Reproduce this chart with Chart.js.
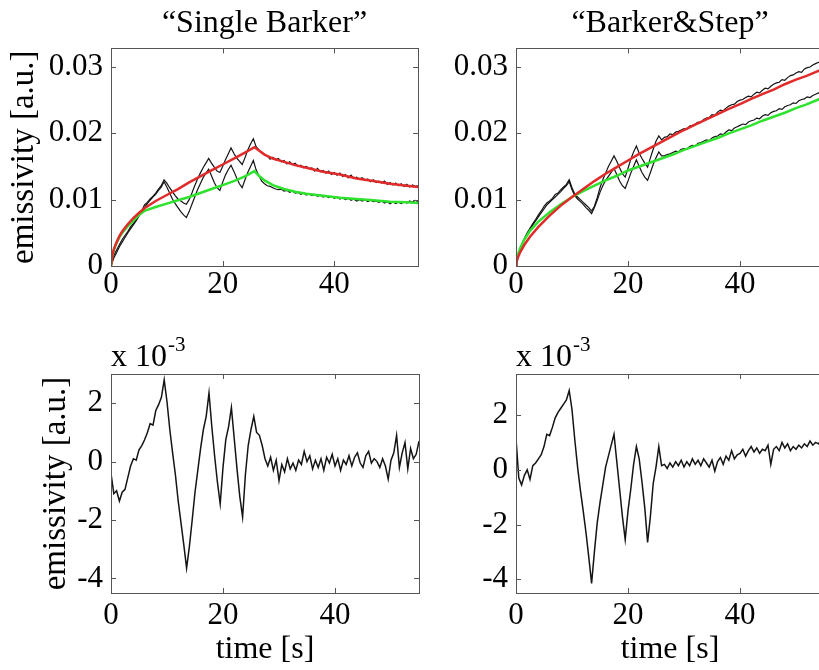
<!DOCTYPE html>
<html>
<head>
<meta charset="utf-8">
<script src="https://cdn.jsdelivr.net/npm/chart.js@4.4.1/dist/chart.umd.min.js"></script>
<style>
  html, body { margin: 0; padding: 0; background: #fff; overflow: hidden; }
  body { width: 819px; height: 670px; position: relative; }
  canvas { position: absolute; }
</style>
</head>
<body>
<canvas id="sbTop" width="430" height="300" style="left:0;top:0"></canvas>
<canvas id="bsTop" width="420" height="300" style="left:420px;top:0"></canvas>
<canvas id="sbDiff" width="430" height="350" style="left:0;top:320px"></canvas>
<canvas id="bsDiff" width="420" height="350" style="left:420px;top:320px"></canvas>
<script>
// time axis of the measured traces [s]
const TIME = [
  0, 0.5, 1, 1.5, 2, 2.5, 3, 3.5, 4, 4.5,
  5, 5.5, 6, 6.5, 7, 7.5, 8, 8.5, 9, 9.5,
  10, 10.5, 11, 11.5, 12, 12.5, 13, 13.5, 14, 14.5,
  15, 15.5, 16, 16.5, 17, 17.5, 18, 18.5, 19, 19.5,
  20, 20.5, 21, 21.5, 22, 22.5, 23, 23.5, 24, 24.5,
  25, 25.5, 26, 26.5, 27, 27.5, 28, 28.5, 29, 29.5,
  30, 30.5, 31, 31.5, 32, 32.5, 33, 33.5, 34, 34.5,
  35, 35.5, 36, 36.5, 37, 37.5, 38, 38.5, 39, 39.5,
  40, 40.5, 41, 41.5, 42, 42.5, 43, 43.5, 44, 44.5,
  45, 45.5, 46, 46.5, 47, 47.5, 48, 48.5, 49, 49.5,
  50, 50.5, 51, 51.5, 52, 52.5, 53, 53.5, 54, 54.5,
  55,
];

// tick labels
const X_TICKS = [0, 20, 40];
const TOP_Y_TICKS = [0, 0.01, 0.02, 0.03];
const DIFF_Y_TICKS = [-4, -2, 0, 2];

// "Single Barker": measured traces
const SB_UPPER = [
  0.0000, 0.0016, 0.0024, 0.0032, 0.0040, 0.0046, 0.0052, 0.0059, 0.0064, 0.0070,
  0.0078, 0.0083, 0.0092, 0.0096, 0.0101, 0.0105, 0.0110, 0.0116, 0.0121, 0.0130,
  0.0125, 0.0118, 0.0112, 0.0106, 0.0101, 0.0098, 0.0095, 0.0093, 0.0100, 0.0110,
  0.0121, 0.0131, 0.0140, 0.0148, 0.0155, 0.0162, 0.0155, 0.0149, 0.0143, 0.0141,
  0.0150, 0.0160, 0.0169, 0.0178, 0.0170, 0.0163, 0.0158, 0.0153, 0.0163, 0.0175,
  0.0184, 0.0192, 0.0180, 0.0175, 0.0171, 0.0168, 0.0166, 0.0161, 0.0164, 0.0160,
  0.0162, 0.0157, 0.0159, 0.0154, 0.0157, 0.0153, 0.0155, 0.0150, 0.0152, 0.0148,
  0.0150, 0.0147, 0.0148, 0.0143, 0.0147, 0.0142, 0.0144, 0.0140, 0.0143, 0.0138,
  0.0141, 0.0137, 0.0140, 0.0135, 0.0138, 0.0133, 0.0137, 0.0132, 0.0134, 0.0131,
  0.0133, 0.0129, 0.0131, 0.0127, 0.0130, 0.0126, 0.0128, 0.0125, 0.0128, 0.0123,
  0.0126, 0.0122, 0.0125, 0.0121, 0.0124, 0.0120, 0.0123, 0.0119, 0.0122, 0.0120,
  0.0121,
];
const SB_LOWER = [
  0.0000, 0.0012, 0.0020, 0.0029, 0.0036, 0.0043, 0.0050, 0.0056, 0.0062, 0.0068,
  0.0075, 0.0081, 0.0088, 0.0094, 0.0099, 0.0104, 0.0108, 0.0114, 0.0119, 0.0127,
  0.0119, 0.0110, 0.0101, 0.0094, 0.0088, 0.0082, 0.0077, 0.0073, 0.0082, 0.0093,
  0.0104, 0.0115, 0.0124, 0.0133, 0.0140, 0.0146, 0.0136, 0.0126, 0.0118, 0.0114,
  0.0126, 0.0137, 0.0145, 0.0152, 0.0143, 0.0133, 0.0124, 0.0118, 0.0130, 0.0141,
  0.0150, 0.0159, 0.0145, 0.0136, 0.0128, 0.0124, 0.0121, 0.0120, 0.0118, 0.0116,
  0.0115, 0.0116, 0.0113, 0.0114, 0.0111, 0.0113, 0.0110, 0.0111, 0.0108, 0.0110,
  0.0107, 0.0109, 0.0106, 0.0108, 0.0105, 0.0107, 0.0104, 0.0106, 0.0103, 0.0105,
  0.0102, 0.0104, 0.0101, 0.0103, 0.0100, 0.0102, 0.0099, 0.0101, 0.0098, 0.0100,
  0.0098, 0.0100, 0.0097, 0.0099, 0.0097, 0.0098, 0.0096, 0.0098, 0.0095, 0.0097,
  0.0094, 0.0097, 0.0094, 0.0096, 0.0094, 0.0097, 0.0095, 0.0098, 0.0096, 0.0099,
  0.0097,
];

// "Single Barker": model fits
const SB_FIT_TIME = [0, 0.25, 0.5, 1, 1.5, 2, 3, 4, 5, 6, 8, 10, 12, 14, 16, 18, 20, 22, 24, 25.7,
  26.5, 27.5, 29, 31, 33, 35, 38, 41, 44, 47, 50, 53, 55];
const SB_RED = [0, 0.0017, 0.0025, 0.0036, 0.0045, 0.0052, 0.0063, 0.0072, 0.0080, 0.0087,
  0.0098, 0.0107, 0.0116, 0.0126, 0.0135, 0.0144, 0.0153, 0.0162, 0.0171, 0.0179,
  0.0174, 0.0168, 0.0162, 0.0157, 0.0152, 0.0148, 0.0142, 0.0138, 0.0132, 0.0128, 0.0124, 0.0121, 0.0119];
const SB_GREEN = [0, 0.0016, 0.0024, 0.0035, 0.0043, 0.0050, 0.0060, 0.0068, 0.0077, 0.0083,
  0.0089, 0.0094, 0.0099, 0.0104, 0.0110, 0.0116, 0.0122, 0.0128, 0.0135, 0.0143,
  0.0136, 0.0129, 0.0122, 0.0116, 0.0112, 0.0109, 0.0106, 0.0103, 0.0101, 0.0099, 0.0097, 0.0096, 0.0095];

// "Barker&Step": measured traces
const BS_UPPER = [
  0.0000, 0.0020, 0.0032, 0.0042, 0.0050, 0.0057, 0.0064, 0.0070, 0.0077, 0.0083,
  0.0090, 0.0095, 0.0098, 0.0102, 0.0108, 0.0110, 0.0115, 0.0119, 0.0123, 0.0130,
  0.0118, 0.0108, 0.0104, 0.0100, 0.0096, 0.0092, 0.0088, 0.0083, 0.0090, 0.0103,
  0.0118, 0.0130, 0.0140, 0.0150, 0.0158, 0.0166, 0.0158, 0.0148, 0.0139, 0.0134,
  0.0147, 0.0161, 0.0172, 0.0181, 0.0170, 0.0162, 0.0155, 0.0149, 0.0163, 0.0176,
  0.0188, 0.0196, 0.0190, 0.0194, 0.0195, 0.0199, 0.0198, 0.0202, 0.0203, 0.0205,
  0.0207, 0.0206, 0.0211, 0.0212, 0.0214, 0.0217, 0.0216, 0.0221, 0.0223, 0.0224,
  0.0228, 0.0227, 0.0232, 0.0235, 0.0234, 0.0238, 0.0241, 0.0243, 0.0244, 0.0248,
  0.0250, 0.0251, 0.0254, 0.0256, 0.0255, 0.0259, 0.0262, 0.0261, 0.0265, 0.0268,
  0.0267, 0.0271, 0.0274, 0.0276, 0.0277, 0.0281, 0.0280, 0.0284, 0.0287, 0.0288,
  0.0291, 0.0293, 0.0292, 0.0297, 0.0299, 0.0300, 0.0303, 0.0305, 0.0307, 0.0306,
  0.0309,
];
const BS_LOWER = [
  0.0000, 0.0018, 0.0030, 0.0040, 0.0048, 0.0055, 0.0062, 0.0068, 0.0074, 0.0080,
  0.0086, 0.0092, 0.0096, 0.0100, 0.0104, 0.0108, 0.0112, 0.0117, 0.0121, 0.0127,
  0.0115, 0.0106, 0.0101, 0.0097, 0.0093, 0.0088, 0.0084, 0.0079, 0.0088, 0.0099,
  0.0111, 0.0121, 0.0129, 0.0135, 0.0141, 0.0147, 0.0138, 0.0128, 0.0121, 0.0117,
  0.0128, 0.0140, 0.0150, 0.0160, 0.0150, 0.0141, 0.0134, 0.0129, 0.0141, 0.0153,
  0.0163, 0.0172, 0.0166, 0.0166, 0.0168, 0.0169, 0.0171, 0.0173, 0.0172, 0.0176,
  0.0177, 0.0176, 0.0180, 0.0182, 0.0181, 0.0185, 0.0186, 0.0188, 0.0190, 0.0189,
  0.0193, 0.0195, 0.0196, 0.0199, 0.0198, 0.0202, 0.0205, 0.0204, 0.0208, 0.0210,
  0.0212, 0.0214, 0.0213, 0.0217, 0.0219, 0.0220, 0.0223, 0.0222, 0.0226, 0.0228,
  0.0227, 0.0231, 0.0233, 0.0234, 0.0237, 0.0236, 0.0240, 0.0242, 0.0243, 0.0246,
  0.0245, 0.0249, 0.0251, 0.0252, 0.0255, 0.0254, 0.0257, 0.0259, 0.0261, 0.0260,
  0.0263,
];

// "Barker&Step": model fits
const BS_FIT_TIME = [0, 0.1, 0.3, 0.7, 1.5, 2.5, 4, 6, 8, 10, 12, 14, 16, 18, 20, 22, 24, 26, 28, 30,
  32, 34, 36, 38, 40, 42, 44, 46, 48, 50, 52, 54, 55];
const BS_RED = [0, 0.0006, 0.0012, 0.0020, 0.0032, 0.0044, 0.0059, 0.0076, 0.0091, 0.0104,
  0.0116, 0.0128, 0.0139, 0.0149, 0.0159, 0.0169, 0.0178, 0.0187, 0.0196, 0.0205,
  0.0213, 0.0221, 0.0229, 0.0237, 0.0244, 0.0252, 0.0259, 0.0266, 0.0274, 0.0281, 0.0287, 0.0294, 0.0297];
const BS_GREEN = [0, 0.0009, 0.0016, 0.0026, 0.0040, 0.0053, 0.0067, 0.0081, 0.0093, 0.0104,
  0.0113, 0.0121, 0.0129, 0.0136, 0.0144, 0.0150, 0.0156, 0.0162, 0.0168, 0.0175,
  0.0181, 0.0187, 0.0193, 0.0200, 0.0206, 0.0212, 0.0219, 0.0225, 0.0231, 0.0238, 0.0244, 0.0251, 0.0254];

// residuals, in units of 1e-3
const SB_DIFF = [
  -0.40, -1.10, -1.00, -1.35, -1.05, -0.95, -0.55, -0.15, 0.10, 0.05,
  0.40, 0.55, 0.75, 1.00, 1.30, 1.25, 1.75, 1.95, 2.20, 2.80,
  2.05, 1.10, 0.30, -0.45, -1.35, -2.10, -2.85, -3.65, -2.90, -2.00,
  -1.05, -0.30, 0.45, 1.10, 1.55, 2.35, 1.20, 0.20, -0.70, -1.45,
  -0.20, 0.75, 1.20, 1.85, 0.80, -0.25, -1.20, -1.90, -0.45, 0.55,
  1.10, 1.55, 1.00, 0.90, 0.55, 0.10, -0.15, 0.15, -0.30, 0.05,
  -0.65, -0.10, -0.35, 0.10, -0.25, -0.05, -0.30, 0.05, -0.10, 0.35,
  0.00, 0.20, -0.25, 0.05, -0.20, 0.10, -0.30, 0.15, -0.05, 0.25,
  -0.15, 0.10, -0.30, 0.05, -0.10, 0.20, -0.15, 0.15, 0.30, -0.05,
  -0.20, 0.20, 0.35, -0.05, 0.10, 0.00, -0.20, 0.10, -0.15, -0.60,
  0.05, 0.30, 0.90, -0.20, 0.30, 0.65, -0.25, 0.45, 0.10, 0.25,
  0.70,
];
const BS_DIFF = [
  1.15, -0.30, -0.55, -0.20, 0.00, -0.35, 0.15, 0.25, 0.40, 0.55,
  0.85, 1.30, 1.25, 1.55, 1.90, 2.10, 2.25, 2.40, 2.55, 2.90,
  2.20, 1.10, 0.10, -0.75, -1.50, -2.30, -3.20, -4.15, -3.00, -1.95,
  -1.20, -0.55, 0.10, 0.50, 0.90, 1.30, 0.30, -0.70, -1.70, -2.55,
  -1.50, -0.70, 0.20, 0.85, 0.40, -0.45, -1.40, -2.65, -1.70, -0.50,
  0.10, 0.85, 0.15, 0.20, 0.05, 0.25, 0.10, 0.30, 0.15, 0.35,
  0.10, 0.30, 0.15, 0.40, 0.20, 0.35, 0.15, 0.40, 0.25, 0.10,
  0.35, -0.05, 0.30, 0.45, 0.20, 0.50, 0.35, 0.70, 0.40, 0.55,
  0.60, 0.75, 0.50, 0.70, 0.85, 0.65, 0.80, 0.60, 0.75, 0.70,
  0.90, 0.20, 0.75, 0.85, 0.70, 1.00, 0.80, 0.95, 0.70, 0.85,
  0.75, 0.90, 0.80, 0.95, 0.85, 1.05, 0.90, 1.00, 0.95, 1.10,
  0.95,
];

const SERIF = "'Liberation Serif', 'Times New Roman', serif";
const RED = "#e12a2a";
const GREEN = "#2ee22e";
const INK = "#141414";

function xy(xs, ys) {
  return xs.map((x, i) => ({ x, y: ys[i] }));
}

function fixedTicks(values) {
  return (scale) => { scale.ticks = values.map((value) => ({ value })); };
}

// matlab style box: full frame with inward ticks on all four sides
const boxFrame = {
  id: "boxFrame",
  afterDatasetsDraw(chart) {
    const { ctx, chartArea: a, scales } = chart;
    const len = 5;
    ctx.save();
    ctx.strokeStyle = "#555";
    ctx.lineWidth = 1;
    ctx.strokeRect(Math.round(a.left) + 0.5, Math.round(a.top) + 0.5,
      Math.round(a.right - a.left), Math.round(a.bottom - a.top));
    ctx.beginPath();
    scales.x.ticks.forEach((t) => {
      const px = Math.round(scales.x.getPixelForValue(t.value)) + 0.5;
      ctx.moveTo(px, a.bottom); ctx.lineTo(px, a.bottom - len);
      ctx.moveTo(px, a.top); ctx.lineTo(px, a.top + len);
    });
    scales.y.ticks.forEach((t) => {
      const py = Math.round(scales.y.getPixelForValue(t.value)) + 0.5;
      ctx.moveTo(a.left, py); ctx.lineTo(a.left + len, py);
      ctx.moveTo(a.right, py); ctx.lineTo(a.right - len, py);
    });
    ctx.stroke();
    ctx.restore();
  },
};

// "x 10^-3" multiplier above the axes
const exponentLabel = {
  id: "exponentLabel",
  afterDraw(chart, args, opts) {
    if (!opts.base) return;
    const { ctx, chartArea: a } = chart;
    ctx.save();
    ctx.fillStyle = "#000";
    ctx.textBaseline = "alphabetic";
    ctx.font = `32px ${SERIF}`;
    ctx.fillText(opts.base, a.left, a.top - 8);
    const w = ctx.measureText(opts.base).width;
    ctx.font = `21px ${SERIF}`;
    ctx.fillText(opts.power, a.left + w + 1, a.top - 23);
    ctx.restore();
  },
};

function panel(id, cfg) {
  const tickFont = { family: SERIF, size: 31 };
  return new Chart(document.getElementById(id), {
    type: "line",
    data: { datasets: cfg.datasets },
    options: {
      responsive: false,
      animation: false,
      events: [],
      layout: { padding: { top: cfg.padTop, right: cfg.padRight, left: 0, bottom: 0 } },
      elements: { point: { radius: 0 }, line: { tension: 0 } },
      plugins: {
        legend: { display: false },
        tooltip: { enabled: false },
        title: {
          display: !!cfg.title,
          text: cfg.title,
          fullSize: false,
          color: "#000",
          font: { family: SERIF, size: 32, weight: "normal" },
          padding: { top: 4, bottom: 6 },
        },
        exponentLabel: { base: cfg.expBase, power: cfg.expPower },
      },
      scales: {
        x: {
          type: "linear",
          min: 0,
          max: 55,
          border: { display: false },
          grid: { display: false, drawTicks: false },
          afterBuildTicks: fixedTicks(X_TICKS),
          ticks: { color: "#000", font: tickFont, padding: cfg.xTickPad, maxRotation: 0 },
          title: {
            display: !!cfg.xTitle,
            text: cfg.xTitle,
            color: "#000",
            font: { family: SERIF, size: 32 },
            padding: { top: 0, bottom: 1 },
          },
          afterFit: (s) => { s.height = cfg.xAxisHeight; },
        },
        y: {
          min: cfg.yMin,
          max: cfg.yMax,
          border: { display: false },
          grid: { display: false, drawTicks: false },
          afterBuildTicks: fixedTicks(cfg.yTicks),
          ticks: {
            color: "#000",
            font: tickFont,
            padding: 8,
            callback: cfg.yFormat,
          },
          title: {
            display: !!cfg.yTitle,
            text: cfg.yTitle,
            color: "#000",
            font: { family: SERIF, size: 33 },
            padding: { top: cfg.yTitlePad, bottom: 0 },
          },
          afterFit: (s) => { s.width = cfg.yAxisWidth; },
        },
      },
    },
    plugins: [boxFrame, exponentLabel],
  });
}

const fmtTop = (v) => (v === 0 ? "0" : v.toFixed(2));
const fmtDiff = (v) => String(v);

function topSets(fitTime, red, green, upper, lower) {
  return [
    { data: xy(fitTime, red), borderColor: RED, borderWidth: 2.5 },
    { data: xy(fitTime, green), borderColor: GREEN, borderWidth: 2.5 },
    { data: xy(TIME, upper), borderColor: INK, borderWidth: 1.2 },
    { data: xy(TIME, lower), borderColor: INK, borderWidth: 1.2 },
  ];
}

panel("sbTop", {
  title: "\u201CSingle Barker\u201D",
  padTop: 0, padRight: 12, yAxisWidth: 111, xAxisHeight: 34, xTickPad: 0,
  yMin: 0, yMax: 0.0328, yTicks: TOP_Y_TICKS, yFormat: fmtTop,
  yTitle: "emissivity [a.u.]", yTitlePad: 5,
  datasets: topSets(SB_FIT_TIME, SB_RED, SB_GREEN, SB_UPPER, SB_LOWER),
});

panel("bsTop", {
  title: "\u201CBarker&Step\u201D",
  padTop: 0, padRight: 16, yAxisWidth: 96, xAxisHeight: 34, xTickPad: 0,
  yMin: 0, yMax: 0.0328, yTicks: TOP_Y_TICKS, yFormat: fmtTop,
  datasets: topSets(BS_FIT_TIME, BS_RED, BS_GREEN, BS_UPPER, BS_LOWER),
});

panel("sbDiff", {
  padTop: 54, padRight: 11, yAxisWidth: 111, xAxisHeight: 77, xTickPad: 4,
  yMin: -4.5, yMax: 3, yTicks: DIFF_Y_TICKS, yFormat: fmtDiff,
  yTitle: "emissivity [a.u.]", yTitlePad: 37,
  xTitle: "time [s]",
  expBase: "x 10", expPower: "-3",
  datasets: [{ data: xy(TIME, SB_DIFF), borderColor: INK, borderWidth: 1.5 }],
});

panel("bsDiff", {
  padTop: 54, padRight: 16, yAxisWidth: 96, xAxisHeight: 77, xTickPad: 4,
  yMin: -4.5, yMax: 3.5, yTicks: DIFF_Y_TICKS, yFormat: fmtDiff,
  xTitle: "time [s]",
  expBase: "x 10", expPower: "-3",
  datasets: [{ data: xy(TIME, BS_DIFF), borderColor: INK, borderWidth: 1.5 }],
});
</script>
</body>
</html>
